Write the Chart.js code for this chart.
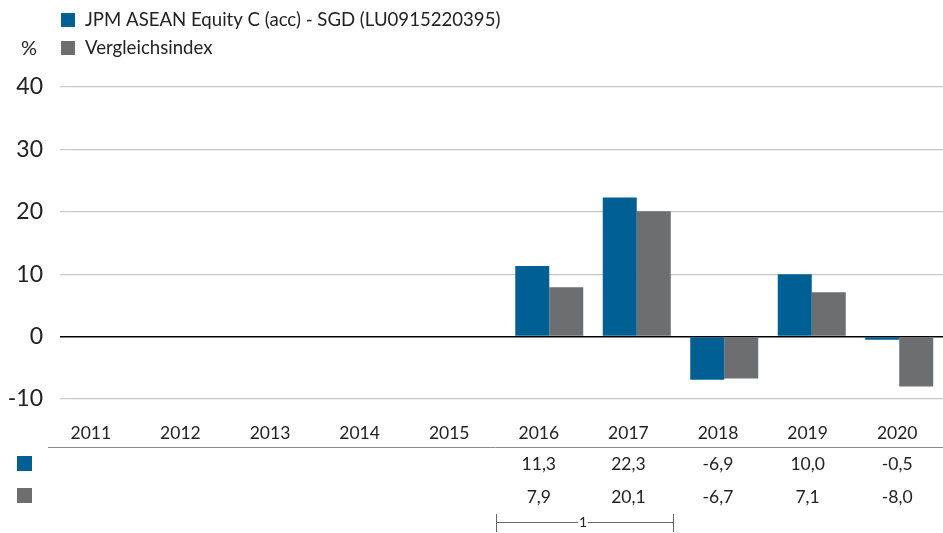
<!DOCTYPE html>
<html>
<head>
<meta charset="utf-8">
<script src="https://cdn.jsdelivr.net/npm/chart.js@4/dist/chart.umd.min.js"></script>
<style>
  body { margin: 0; background: #fff; }
  #wrap { width: 943px; height: 533px; position: relative; }
</style>
</head>
<body>
<div id="wrap"><canvas id="chart" width="943" height="533"></canvas></div>
<script>
// data
const years = ['2011', '2012', '2013', '2014', '2015', '2016', '2017', '2018', '2019', '2020'];
const fundValues = [null, null, null, null, null, 11.3, 22.3, -6.9, 10.0, -0.5];
const indexValues = [null, null, null, null, null, 7.9, 20.1, -6.7, 7.1, -8.0];
const seriesNames = ['JPM ASEAN Equity C (acc) - SGD (LU0915220395)', 'Vergleichsindex'];
const yTicks = [-10, 0, 10, 20, 30, 40];

const blue = '#006094';
const grey = '#6d6e70';
const font = 'Lato, "Noto Sans", sans-serif';

function fmt(v) {
    return v === null ? '' : v.toFixed(1).replace('.', ',');
}

// legend, table under the chart and the bracket
const extras = {
    id: 'extras',
    afterDraw(chart) {
        const ctx = chart.ctx;
        ctx.save();
        ctx.textBaseline = 'middle';

        // legend on top
        ctx.font = '18.6px ' + font;
        ctx.fillStyle = blue;
        ctx.fillRect(61, 13, 14, 14);
        ctx.fillStyle = grey;
        ctx.fillRect(61, 41, 14, 14);
        ctx.fillStyle = '#222';
        ctx.textAlign = 'left';
        ctx.fillText(seriesNames[0], 85, 20);
        ctx.fillText(seriesNames[1], 85, 48);
        ctx.font = '20px ' + font;
        ctx.fillText('%', 21, 49);

        // table
        const left = 46, right = 942;
        const colW = (right - left) / years.length;
        ctx.font = '17.5px ' + font;
        ctx.textAlign = 'center';
        years.forEach((y, i) => {
            const cx = left + colW * (i + 0.5);
            ctx.fillStyle = '#222';
            ctx.fillText(y, cx, 433);
            ctx.fillText(fmt(fundValues[i]), cx, 464);
            ctx.fillText(fmt(indexValues[i]), cx, 497);
        });
        ctx.strokeStyle = '#8a8a8a';
        ctx.lineWidth = 1;
        ctx.beginPath();
        ctx.moveTo(48, 447.5);
        ctx.lineTo(943, 447.5);
        ctx.stroke();

        ctx.fillStyle = blue;
        ctx.fillRect(17, 456, 15, 15);
        ctx.fillStyle = grey;
        ctx.fillRect(17, 488, 15, 15);

        // bracket under 2016-2017
        ctx.strokeStyle = '#666';
        ctx.beginPath();
        ctx.moveTo(496.5, 514); ctx.lineTo(496.5, 532);
        ctx.moveTo(673.5, 514); ctx.lineTo(673.5, 532);
        ctx.moveTo(496, 522.5); ctx.lineTo(578, 522.5);
        ctx.moveTo(588, 522.5); ctx.lineTo(673, 522.5);
        ctx.stroke();
        ctx.font = '14px ' + font;
        ctx.fillStyle = '#222';
        ctx.fillText('1', 583, 522);

        ctx.restore();
    }
};

new Chart(document.getElementById('chart'), {
    type: 'bar',
    data: {
        labels: years,
        datasets: [
            { label: seriesNames[0], data: fundValues, backgroundColor: blue },
            { label: seriesNames[1], data: indexValues, backgroundColor: grey }
        ]
    },
    options: {
        responsive: false,
        animation: false,
        layout: { padding: { top: 87, bottom: 134, right: 0, left: 0 } },
        datasets: { bar: { categoryPercentage: 0.777, barPercentage: 1 } },
        plugins: { legend: { display: false }, tooltip: { enabled: false } },
        scales: {
            x: { display: false },
            y: {
                min: -10,
                max: 40,
                afterFit(scale) { scale.width = 68; },
                afterBuildTicks(scale) { scale.ticks = yTicks.map(v => ({ value: v })); },
                border: { display: false },
                grid: {
                    tickLength: 8,
                    color: c => c.tick && c.tick.value === 0 ? '#000' : '#c8c8c8',
                    lineWidth: c => c.tick && c.tick.value === 0 ? 1.5 : 1.2
                },
                ticks: {
                    padding: 17,
                    color: '#222',
                    font: { family: font, size: 23 }
                }
            }
        }
    },
    plugins: [extras]
});
</script>
</body>
</html>
